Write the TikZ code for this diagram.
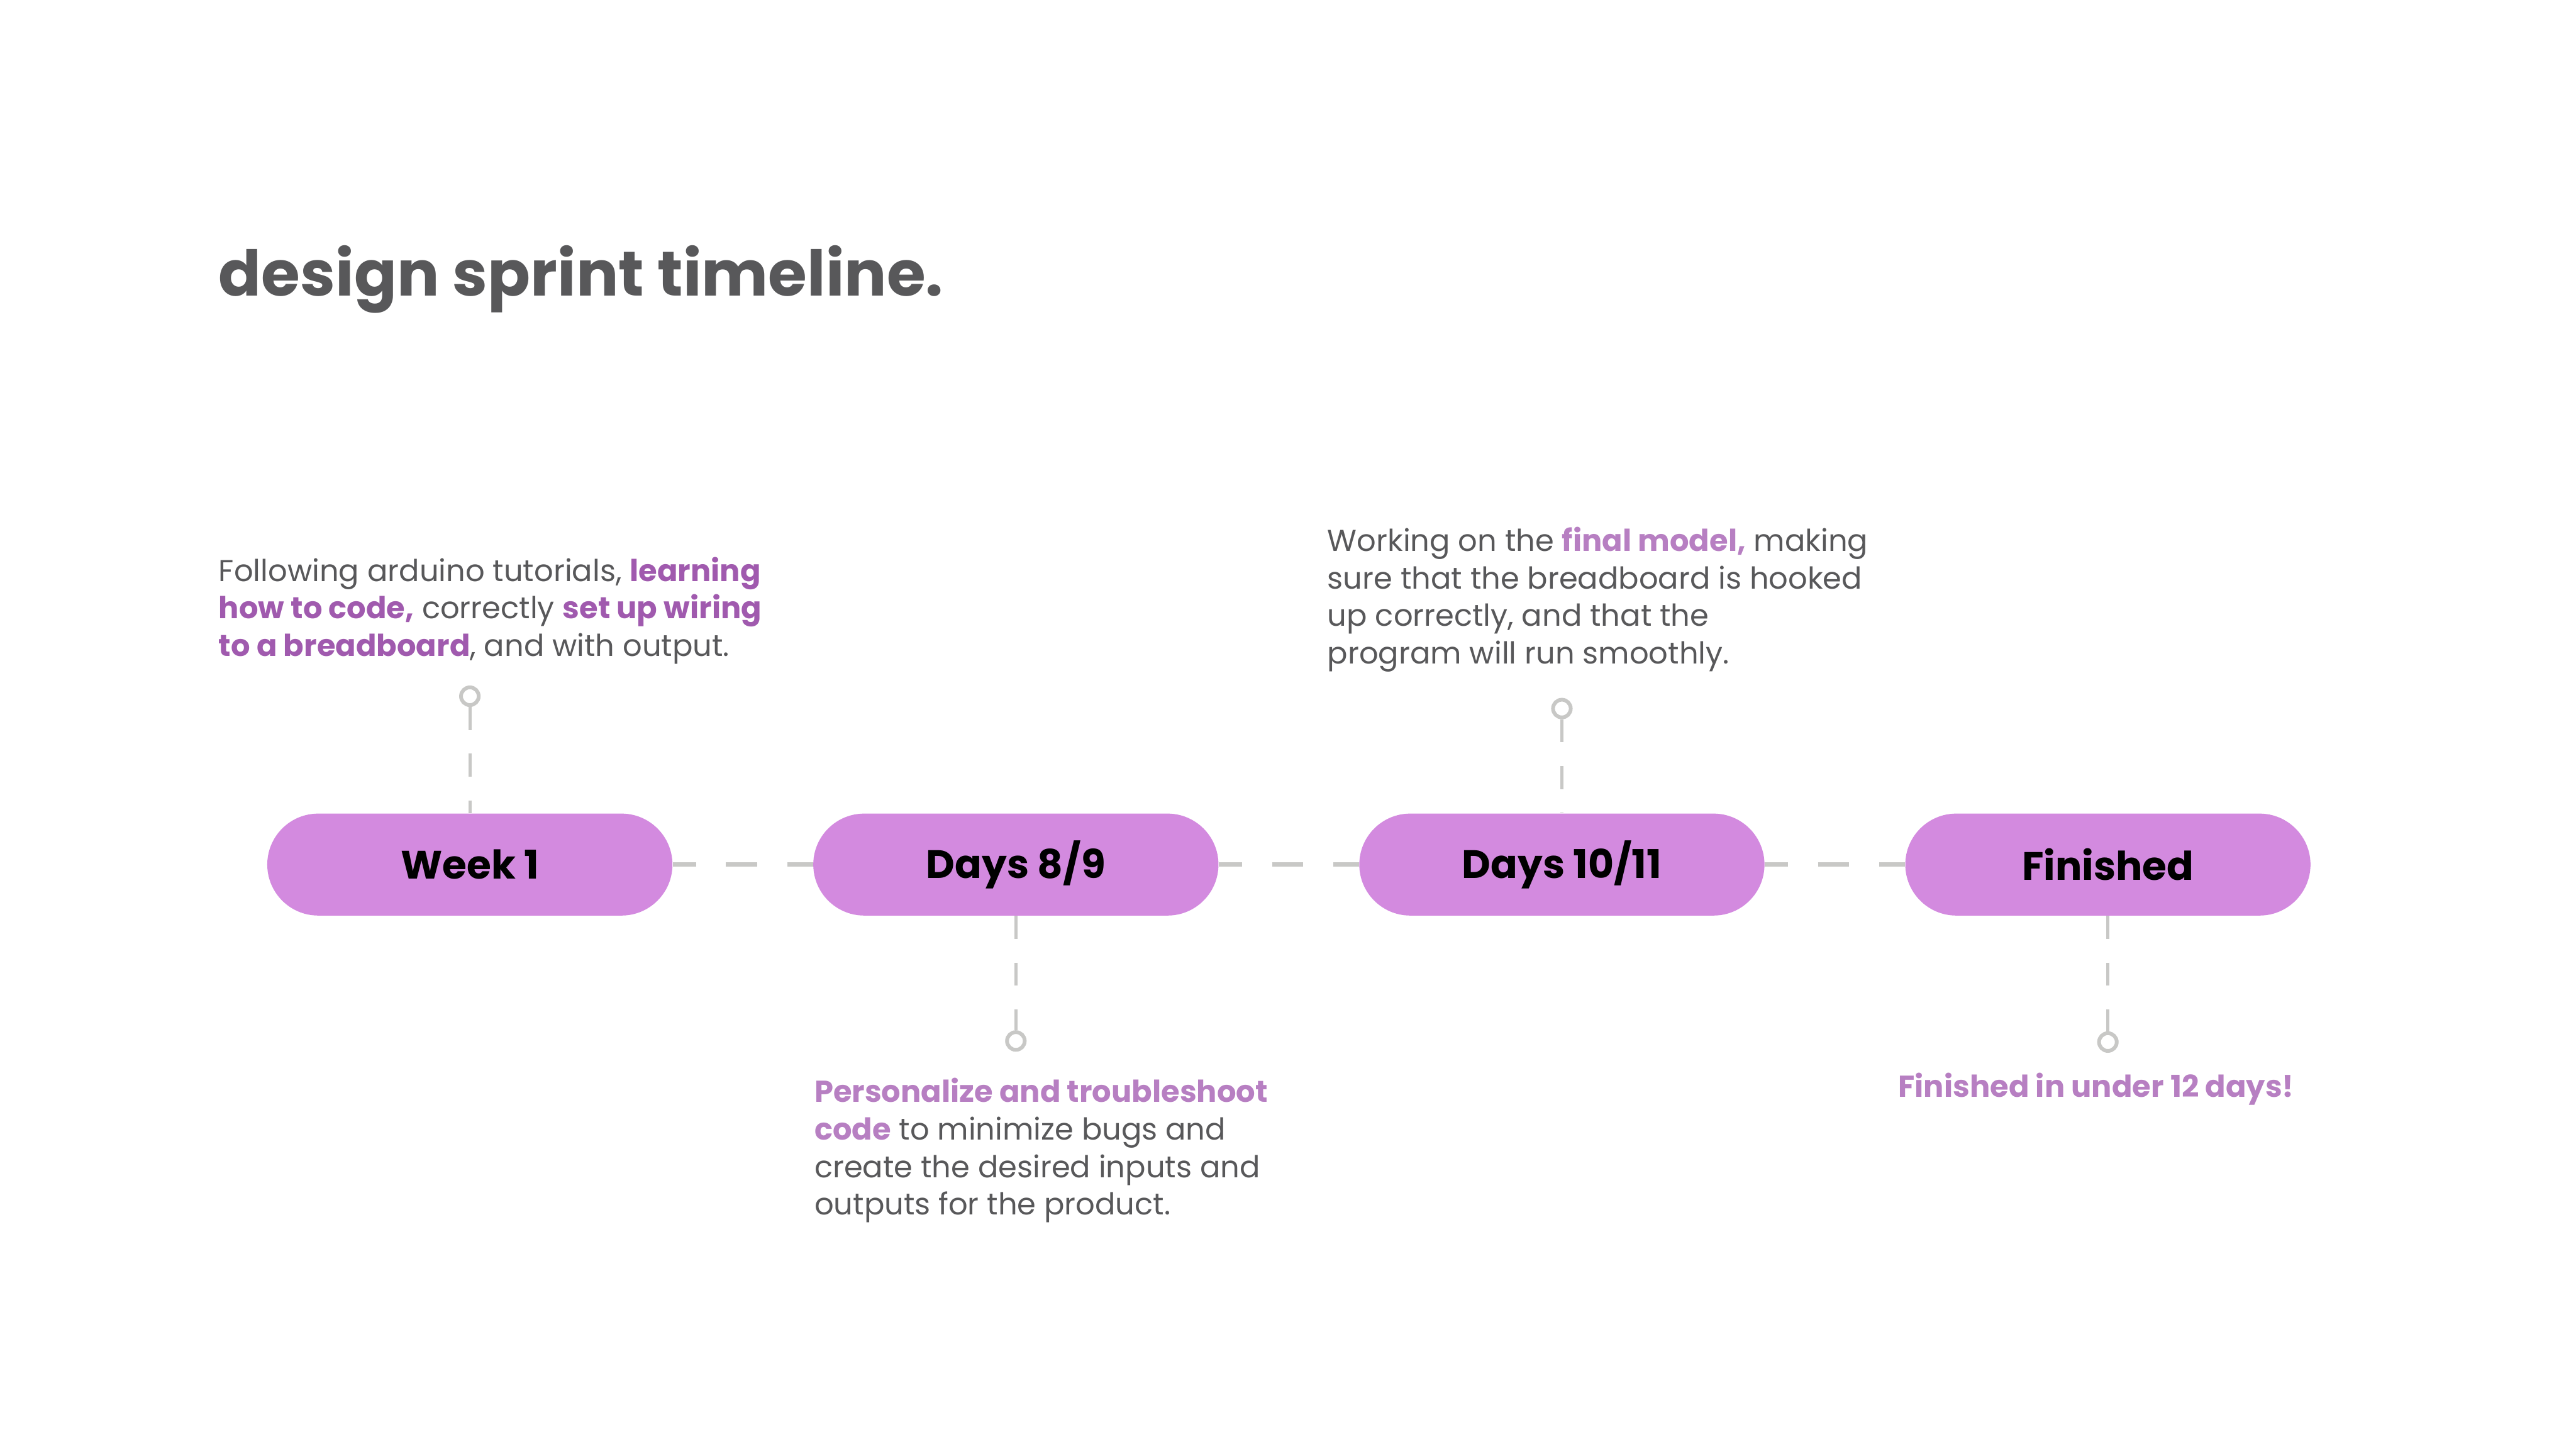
\documentclass[tikz,border=0pt]{standalone}
\usepackage{fontspec}
\setmainfont{Poppins}
\usetikzlibrary{positioning}
\definecolor{pillfill}{HTML}{D38ADF}
\definecolor{textgray}{HTML}{58585A}
\definecolor{plum}{HTML}{A05AAE}
\definecolor{lilac}{HTML}{B77FC2}
\definecolor{dashgray}{HTML}{C8C8C6}
\newcommand{\hot}[1]{\textcolor{plum}{\bfseries #1}}
\newcommand{\soft}[1]{\textcolor{lilac}{\bfseries #1}}
\tikzset{
  stagenode/.style={
    rectangle, rounded corners=0.95cm, fill=pillfill,
    minimum width=7.55cm, minimum height=1.9cm, inner sep=0pt,
    text=black, font=\fontsize{21}{24}\selectfont\bfseries
  },
  pinnode/.style={
    circle, draw=dashgray, line width=0.07cm, fill=white,
    minimum size=0.33cm, inner sep=0pt
  },
  notenode/.style={
    align=left, inner sep=0pt, text=textgray,
    font=\fontsize{16}{19.9}\selectfont
  },
  linkline/.style={draw=dashgray, line width=0.08cm, dash pattern=on 0.58cm off 0.56cm, dash phase=0.15cm},
  stemline/.style={draw=dashgray, line width=0.06cm, dash pattern=on 0.43cm off 0.44cm},
}
\begin{document}
\begin{tikzpicture}[node distance=2.61cm]
  \useasboundingbox (0,0) rectangle (48,-27);
  \node[anchor=base west, inner sep=0pt, text=textgray, font=\fontsize{33.4}{40}\selectfont\bfseries] (title) at (4.07,-5.51) {design sprint timeline.};

  \node[stagenode] (week) at (8.755,-16.11) {Week 1};
  \node[stagenode, right=of week] (days89) {Days 8/9};
  \node[stagenode, right=of days89] (days1011) {Days 10/11};
  \node[stagenode, right=of days1011] (finished) {Finished};

  \node[pinnode, above=1.98cm of week] (pinweek) {};
  \node[pinnode, below=2.13cm of days89] (pin89) {};
  \node[pinnode, above=1.75cm of days1011] (pin1011) {};
  \node[pinnode, below=2.15cm of finished] (pinfin) {};

  \node[notenode, anchor=base west] (noteweek) at (4.07,-12.23) {Following arduino tutorials, \hot{learning}\\ \hot{how to code,} correctly \hot{set up wiring}\\ \hot{to a breadboard}, and with output.};
  \node[notenode, anchor=base west] (note89) at (15.17,-22.64) {\soft{Personalize and troubleshoot}\\ \soft{code} to minimize bugs and\\ create the desired inputs and\\ outputs for the product.};
  \node[notenode, anchor=base west] (note1011) at (24.73,-12.37) {Working on the \soft{final model,} making\\ sure that the breadboard is hooked\\ up correctly, and that the\\ program will run smoothly.};
  \node[notenode, anchor=base] (notefin) at (39.06,-20.44) {\soft{Finished in under 12 days!}};

  \draw[linkline] (week) -- (days89);
  \draw[linkline] (days89) -- (days1011);
  \draw[linkline] (days1011) -- (finished);
  \draw[stemline] (pinweek) -- (week);
  \draw[stemline] (days89) -- (pin89);
  \draw[stemline] (pin1011) -- (days1011);
  \draw[stemline] (finished) -- (pinfin);
\end{tikzpicture}
\end{document}
